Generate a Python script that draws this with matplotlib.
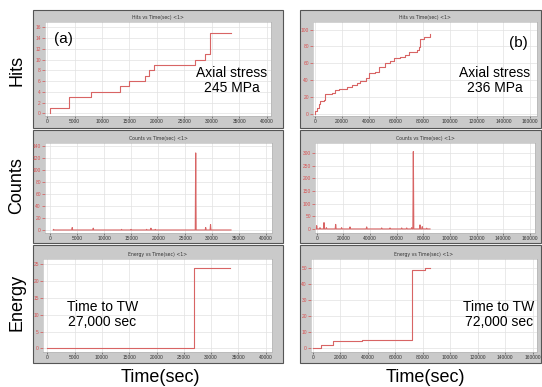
import numpy as np
import matplotlib
matplotlib.use("Agg")
import matplotlib.pyplot as plt
from matplotlib.patches import Rectangle

plt.rcParams['font.family'] = ['Liberation Sans', 'DejaVu Sans']

# --- data ---
# (a) 245 MPa specimen
hits_a_time = [600, 4050, 7950, 13200, 14950, 17850, 18650, 19450, 26950, 28800, 29700]
hits_a_value = [1, 3, 4, 5, 6, 7, 8, 9, 10, 11, 15]
hits_a_end = 33500
counts_a = [1, 4, 3, 1, 1, 1, 3, 1, 128, 4, 9]
energy_a_time = [0, 26950]
energy_a_value = [0, 24]
energy_a_end = 33500

# (b) 236 MPa specimen
hits_b_time = [0, 1240, 2480, 3720, 6200, 6940, 9920, 12400, 14380, 17360, 23560,
               27280, 31000, 33500, 37700, 39700, 44640, 47100, 52100, 55800, 58300,
               63200, 67000, 69400, 73100, 75700, 76900, 78100, 80600, 85600]
hits_b_value = [3, 7, 12, 15, 16, 24, 24, 25, 29, 30, 32, 34, 37, 39, 43, 49, 50,
                56, 60, 63, 66, 68, 70, 73, 74, 76, 79, 89, 91, 95]
hits_b_end = 85600
counts_b_time = [0, 2500, 5500, 7300, 14250, 18700, 25000, 37500, 48750, 55000,
                 63750, 67500, 71250, 72500, 77500, 79200, 82500]
counts_b = [13, 5, 25, 5, 18, 5, 8, 8, 4, 4, 4, 4, 5, 306, 16, 9, 3]
counts_b_end = 85000
energy_b_time = [0, 6000, 15000, 35600, 72000, 81700]
energy_b_value = [0, 2, 4, 5, 49, 50]
energy_b_end = 85300

W, H = 542, 387
LINE = '#d86464'
TICKRED = '#d85050'

fig = plt.figure(figsize=(W / 100, H / 100), dpi=100)


def px_rect(x0, y0, x1, y1):
    return [x0 / W, 1 - y1 / H, (x1 - x0) / W, (y1 - y0) / H]


# gray instrument-style frames behind each chart
for fx0, fx1 in [(33, 283), (300, 541)]:
    for fy0, fy1 in [(10, 128), (130, 243), (245, 363)]:
        r = Rectangle((fx0 / W, 1 - fy1 / H), (fx1 - fx0) / W, (fy1 - fy0) / H,
                      transform=fig.transFigure, facecolor='#cacaca',
                      edgecolor='#555555', linewidth=0.8, zorder=-5)
        fig.patches.append(r)


def step_xy(times, values, end):
    xs = list(times) + [end]
    ys = list(values) + [values[-1]]
    return xs, ys


def spikes_xy(times, values, end, w):
    xs, ys = [times[0] - w], [0]
    for t, v in zip(times, values):
        xs += [t - w, t, t + w]
        ys += [0, v, 0]
    xs.append(end)
    ys.append(0)
    return xs, ys


def setup(ax, title, xlim, ylim, xticks, yticks):
    ax.set_xlim(*xlim)
    ax.set_ylim(*ylim)
    ax.set_xticks(xticks)
    ax.set_yticks(yticks)
    ax.set_xticklabels([str(v) for v in xticks], fontsize=3.5, color='#333333')
    ax.set_yticklabels([str(v) for v in yticks], fontsize=3.5, color=TICKRED)
    ax.tick_params(axis='x', length=1.5, width=0.4, pad=1, color='#333333')
    ax.tick_params(axis='y', length=2, width=0.5, pad=1, color=TICKRED)
    ax.grid(True, color='#e2e2e2', linewidth=0.5)
    ax.set_axisbelow(True)
    for s in ax.spines.values():
        s.set_color('#b0b0b0')
        s.set_linewidth(0.4)
    ax.set_title(title, fontsize=3.3, pad=2, color='#333333', family='DejaVu Sans')


xt_a = list(range(0, 40001, 5000))
xt_b = list(range(0, 160001, 20000))

# row 1 - Hits
ax = fig.add_axes(px_rect(45, 22, 271, 116))
x, y = step_xy(hits_a_time, hits_a_value, hits_a_end)
ax.step([hits_a_time[0]] + x, [0] + y, where='post', color=LINE, lw=0.8)
setup(ax, 'Hits vs Time(sec) <1>', (-400, 40800), (-0.5, 17), xt_a, list(range(0, 17, 2)))
ax.text(0.08, 0.82, '(a)', transform=ax.transAxes, fontsize=11, ha='center', va='center')
ax.text(0.825, 0.38, 'Axial stress\n245 MPa', transform=ax.transAxes, fontsize=10,
        ha='center', va='center', linespacing=1.1)

ax = fig.add_axes(px_rect(313, 22, 537, 116))
x, y = step_xy(hits_b_time, hits_b_value, hits_b_end)
ax.step([0] + x, [0] + y, where='post', color=LINE, lw=0.8)
setup(ax, 'Hits vs Time(sec) <1>', (-1700, 165000), (-2.4, 109), xt_b, list(range(0, 101, 20)))
ax.text(0.915, 0.78, '(b)', transform=ax.transAxes, fontsize=11, ha='center', va='center')
ax.text(0.81, 0.38, 'Axial stress\n236 MPa', transform=ax.transAxes, fontsize=10,
        ha='center', va='center', linespacing=1.1)

# row 2 - Counts
ax = fig.add_axes(px_rect(45, 143, 272, 233))
x, y = spikes_xy(hits_a_time, counts_a, hits_a_end, 80)
ax.plot(x, y, color=LINE, lw=0.8)
setup(ax, 'Counts vs Time(sec) <1>', (-1000, 41100), (-5, 144.5), xt_a, list(range(0, 141, 20)))

ax = fig.add_axes(px_rect(315, 143, 535, 233))
x, y = spikes_xy(counts_b_time, counts_b, counts_b_end, 350)
ax.plot(x, y, color=LINE, lw=0.8)
setup(ax, 'Counts vs Time(sec) <1>', (-1250, 163750), (-16, 340), xt_b, list(range(0, 301, 50)))

# row 3 - Energy
ax = fig.add_axes(px_rect(43, 259, 272, 352))
x, y = step_xy(energy_a_time, energy_a_value, energy_a_end)
ax.step(x, y, where='post', color=LINE, lw=0.8)
setup(ax, 'Energy vs Time(sec) <1>', (-790, 41150), (-1.1, 26.6), xt_a, list(range(0, 26, 5)))
ax.text(0.26, 0.4, 'Time to TW\n27,000 sec', transform=ax.transAxes, fontsize=10,
        ha='center', va='center', linespacing=1.1)

ax = fig.add_axes(px_rect(311, 259, 537, 352))
x, y = step_xy(energy_b_time, energy_b_value, energy_b_end)
ax.step(x, y, where='post', color=LINE, lw=0.8)
setup(ax, 'Energy vs Time(sec) <1>', (-1240, 163000), (-2.7, 55.9), xt_b, list(range(0, 51, 10)))
ax.text(0.83, 0.4, 'Time to TW\n72,000 sec', transform=ax.transAxes, fontsize=10,
        ha='center', va='center', linespacing=1.1)

# row labels and axis captions
for label, yc in [('Hits', 70), ('Counts', 186), ('Energy', 302)]:
    fig.text(17 / W, 1 - yc / H, label, rotation=90, fontsize=13, ha='center', va='center')
fig.text(160 / W, 1 - 377 / H, 'Time(sec)', fontsize=13, ha='center', va='center')
fig.text(425 / W, 1 - 377 / H, 'Time(sec)', fontsize=13, ha='center', va='center')

fig.savefig('out.png', dpi=100, facecolor='white')
